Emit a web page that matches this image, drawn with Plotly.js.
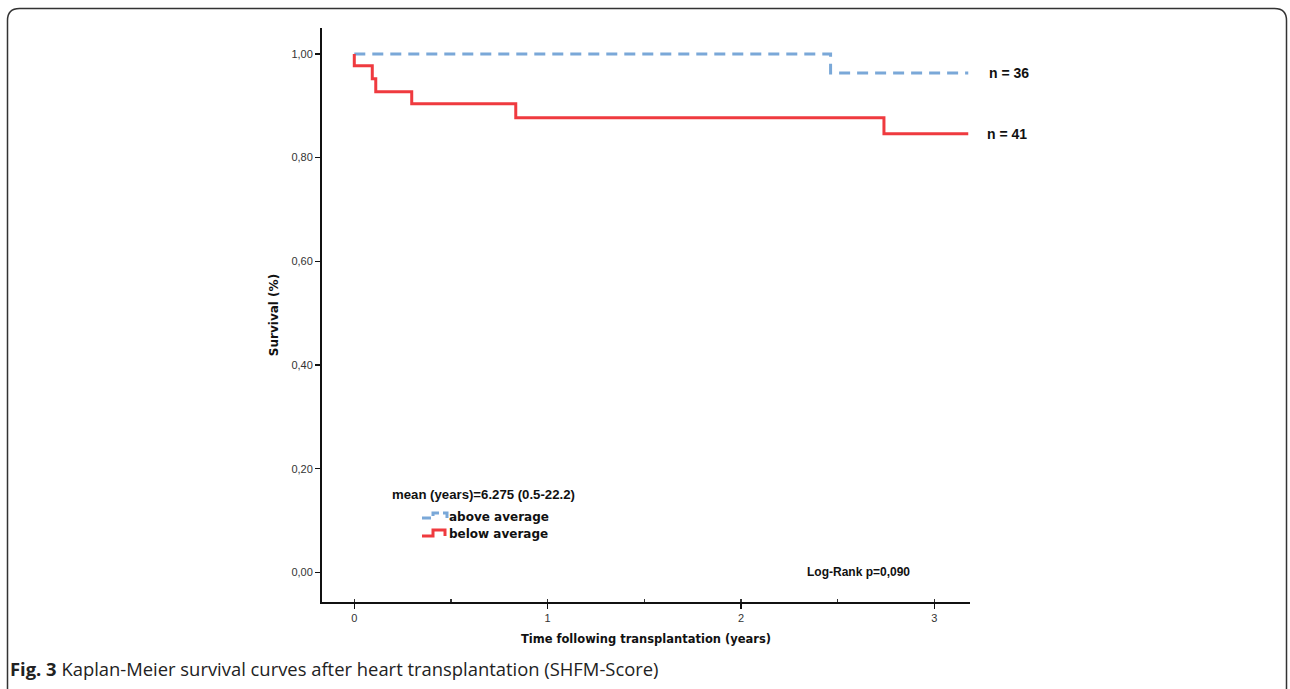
<!DOCTYPE html>
<html>
<head>
<meta charset="utf-8">
<script src="https://cdn.plot.ly/plotly-3.0.1.min.js"></script>
<style>
html,body{margin:0;padding:0;background:#fff;}
#chart{width:1290px;height:689px;}
</style>
</head>
<body>
<div id="chart"></div>
<script>
// Kaplan-Meier step data (years, survival proportion)
const aboveTime = [0, 2.463, 3.175];
const aboveSurv = [1.0, 0.963, 0.963];
const belowTime = [0, 0, 0.093, 0.111, 0.297, 0.835, 2.739, 3.175];
const belowSurv = [1.0, 0.977, 0.952, 0.927, 0.904, 0.877, 0.846, 0.846];
const groupNames = ["above average", "below average"];
const groupN = ["n = 36", "n = 41"];
const legendTitle = "mean (years)=6.275 (0.5-22.2)";
const logRank = "Log-Rank p=0,090";
const xTitle = "Time following transplantation (years)";
const yTitle = "Survival (%)";
const caption = "<b>Fig. 3</b> Kaplan-Meier survival curves after heart transplantation (SHFM-Score)";

const BLUE = "#7aa8d8";
const RED = "#ef3a3f";

// pixel helpers for decorations (plot area: 322..970 x, 28..602 y)
const PL = 322, PR = 970, PT = 28, PB = 602;
const px = v => (v - PL) / (PR - PL);
const py = v => (PB - v) / (PB - PT);

const traces = [
  {x: aboveTime, y: aboveSurv, type: "scatter", mode: "lines", name: groupNames[0],
   line: {shape: "hv", color: BLUE, width: 3, dash: "11px,7px"}, hoverinfo: "skip"},
  {x: belowTime, y: belowSurv, type: "scatter", mode: "lines", name: groupNames[1],
   line: {shape: "hv", color: RED, width: 3}, hoverinfo: "skip"}
];

const boldArial = {family: "Liberation Sans, Arial, sans-serif", size: 12, color: "#111"};
const boldDejavu = {family: "DejaVu Sans, Verdana, sans-serif", size: 12, color: "#111"};

// frame with rounded corners (in paper coords)
function roundRect(x0, y0, x1, y1, r) {
  const X = v => px(v), Y = v => py(v);
  const rx = r / (PR - PL), ry = r / (PB - PT);
  return `M ${X(x0)+rx} ${Y(y0)} L ${X(x1)-rx} ${Y(y0)} Q ${X(x1)} ${Y(y0)} ${X(x1)} ${Y(y0)-ry} ` +
         `L ${X(x1)} ${Y(y1)+ry} Q ${X(x1)} ${Y(y1)} ${X(x1)-rx} ${Y(y1)} ` +
         `L ${X(x0)+rx} ${Y(y1)} Q ${X(x0)} ${Y(y1)} ${X(x0)} ${Y(y1)+ry} ` +
         `L ${X(x0)} ${Y(y0)-ry} Q ${X(x0)} ${Y(y0)} ${X(x0)+rx} ${Y(y0)} Z`;
}
function pathPx(pts) {
  return pts.map((p, i) => (i ? "L " : "M ") + px(p[0]) + " " + py(p[1])).join(" ");
}

const layout = {
  width: 1290, height: 689,
  margin: {l: PL, r: 1290 - PR, t: PT, b: 689 - PB},
  paper_bgcolor: "#fff", plot_bgcolor: "#fff",
  separators: ",.",
  showlegend: false,
  xaxis: {
    range: [-0.167, 3.184], showgrid: false, zeroline: false,
    showline: true, linecolor: "#111", linewidth: 2,
    tickmode: "linear", tick0: 0, dtick: 1,
    ticks: "outside", ticklen: 5, tickwidth: 1.5, tickcolor: "#111",
    minor: {ticks: "inside", dtick: 0.5, ticklen: 3, tickwidth: 1.2, tickcolor: "#333"},
    tickfont: {family: "Liberation Sans, Arial, sans-serif", size: 11, color: "#333"},
    title: {text: "<b>" + xTitle + "</b>", font: Object.assign({}, boldDejavu, {size: 11.5}), standoff: 12}
  },
  yaxis: {
    range: [-0.057, 1.05], showgrid: false, zeroline: false,
    showline: true, linecolor: "#111", linewidth: 2,
    tickmode: "linear", tick0: 0, dtick: 0.2, tickformat: ".2f",
    ticks: "outside", ticklen: 5, tickwidth: 1.5, tickcolor: "#111",
    tickfont: {family: "Liberation Sans, Arial, sans-serif", size: 11, color: "#333"},
    title: {text: "<b>" + yTitle + "</b>", font: boldDejavu, standoff: 10}
  },
  annotations: [
    {xref: "paper", yref: "y", x: px(987), y: aboveSurv[aboveSurv.length - 1], xanchor: "left", yanchor: "middle",
     text: "<b>" + groupN[0] + "</b>", showarrow: false, font: Object.assign({}, boldArial, {size: 14})},
    {xref: "paper", yref: "y", x: px(985), y: belowSurv[belowSurv.length - 1], xanchor: "left", yanchor: "middle",
     text: "<b>" + groupN[1] + "</b>", showarrow: false, font: Object.assign({}, boldArial, {size: 14})},
    {xref: "paper", yref: "y", x: px(805), y: 0, xanchor: "left", yanchor: "middle",
     text: "<b>" + logRank + "</b>", showarrow: false, font: boldArial},
    {xref: "paper", yref: "paper", x: px(483.5), y: py(494), xanchor: "center", yanchor: "middle",
     text: "<b>" + legendTitle + "</b>", showarrow: false, font: Object.assign({}, boldArial, {size: 13.2})},
    {xref: "paper", yref: "paper", x: px(447), y: py(517), xanchor: "left", yanchor: "middle",
     text: "<b>" + groupNames[0] + "</b>", showarrow: false, font: boldDejavu},
    {xref: "paper", yref: "paper", x: px(447), y: py(534), xanchor: "left", yanchor: "middle",
     text: "<b>" + groupNames[1] + "</b>", showarrow: false, font: boldDejavu},
    {xref: "paper", yref: "paper", x: px(8), y: py(668), xanchor: "left", yanchor: "middle",
     text: caption, showarrow: false,
     font: {family: "Open Sans, Noto Sans, sans-serif", size: 18.4, color: "#222"}}
  ],
  shapes: [
    {type: "path", xref: "paper", yref: "paper", path: roundRect(7.5, 8.5, 1286.5, 700, 12),
     line: {color: "#333", width: 1.5}, fillcolor: "rgba(0,0,0,0)", layer: "below"},
    {type: "path", xref: "paper", yref: "paper", path: pathPx([[422, 518], [433, 518], [433, 513], [447, 513], [447, 520]]),
     line: {color: BLUE, width: 3, dash: "9px,4px"}},
    {type: "path", xref: "paper", yref: "paper", path: pathPx([[422, 536], [433, 536], [433, 530], [445, 530], [445, 536]]),
     line: {color: RED, width: 3}}
  ]
};

Plotly.newPlot("chart", traces, layout, {staticPlot: true, displayModeBar: false});
</script>
</body>
</html>
